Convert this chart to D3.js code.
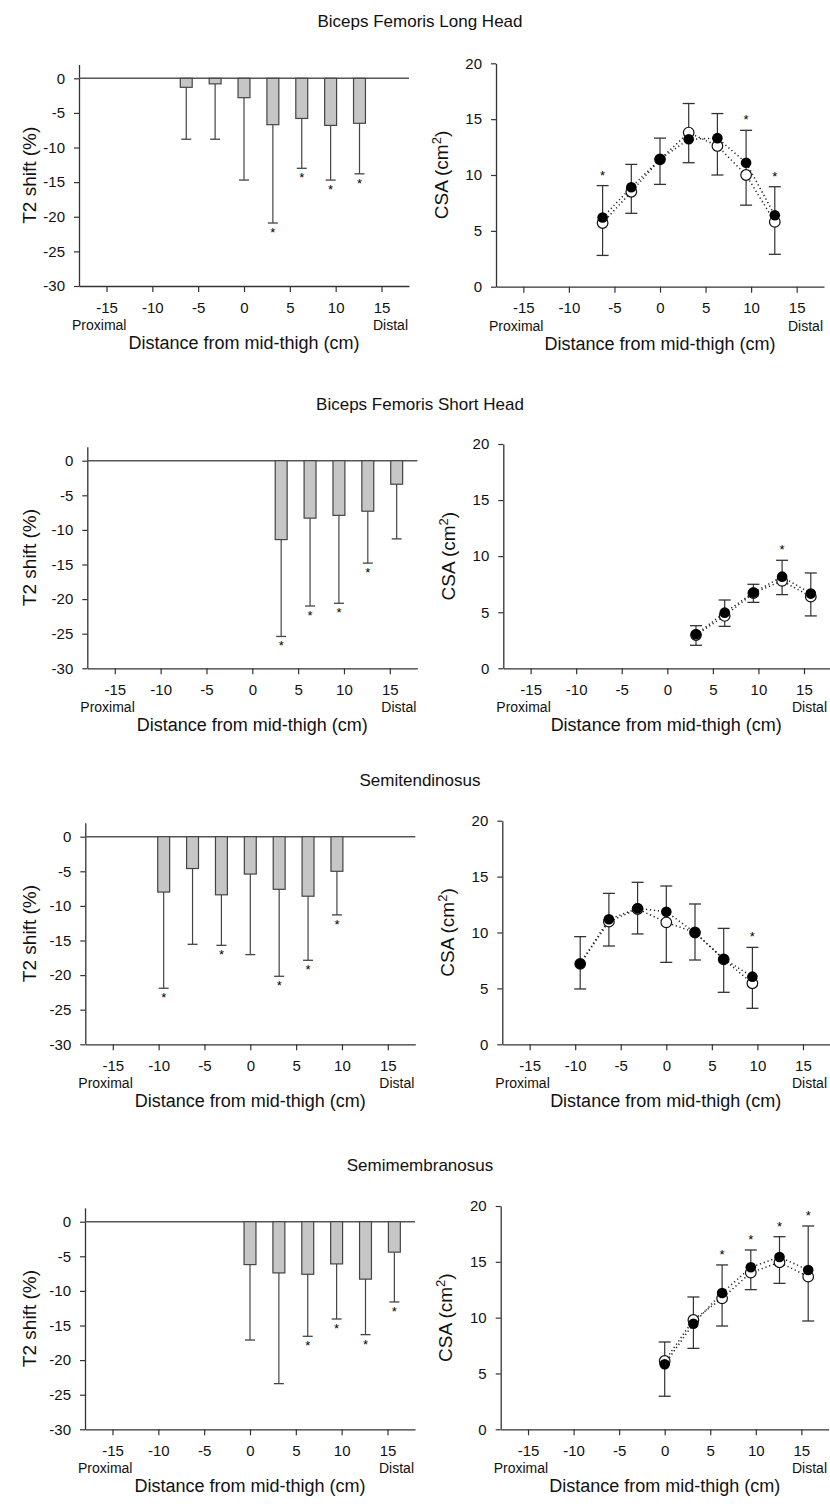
<!DOCTYPE html>
<html>
<head>
<meta charset="utf-8">
<script src="https://cdn.jsdelivr.net/npm/d3@7"></script>
<style>
  html, body { margin: 0; padding: 0; background: #fff; }
  svg { display: block; }
  text { font-family: Arial, "Liberation Sans", sans-serif; fill: #111; }
</style>
</head>
<body>
<svg id="chart" width="830" height="1504"></svg>
<script>
// ---------------- DATA ----------------
const muscles = ["Biceps Femoris Long Head", "Biceps Femoris Short Head", "Semitendinosus", "Semimembranosus"];
const xTicks = [-15, -10, -5, 0, 5, 10, 15];
const t2Ticks = [0, -5, -10, -15, -20, -25, -30];
const csaTicks = [0, 5, 10, 15, 20];

// Biceps Femoris Long Head
const bflhPos     = [-6.3, -3.15, 0, 3.15, 6.3, 9.45, 12.6];
const bflhT2      = [-1.3, -0.8, -2.8, -6.7, -5.8, -6.8, -6.5];
const bflhT2SD    = [7.5, 8.0, 11.9, 14.2, 7.2, 7.9, 7.3];
const bflhT2Sig   = [0, 0, 0, 1, 1, 1, 1];
const bflhPre     = [5.7, 8.5, 11.4, 13.8, 12.6, 10.0, 5.8];
const bflhPost    = [6.2, 8.9, 11.4, 13.2, 13.3, 11.1, 6.4];
const bflhPostSD  = [2.85, 2.05, 1.9, 3.2, 2.2, 2.9, 2.55];
const bflhPreSD   = [2.9, 1.93, 2.24, 2.7, 2.6, 2.7, 2.9];
const bflhCsaSig  = [1, 0, 0, 0, 0, 1, 1];

// Biceps Femoris Short Head
const bfshPos     = [3.15, 6.3, 9.45, 12.6, 15.75];
const bfshT2      = [-11.4, -8.3, -7.9, -7.3, -3.4];
const bfshT2SD    = [14.0, 12.7, 12.7, 7.5, 7.9];
const bfshT2Sig   = [1, 1, 1, 1, 0];
const bfshPre     = [2.97, 4.67, 6.7, 7.8, 6.39];
const bfshPost    = [3.03, 4.96, 6.75, 8.17, 6.66];
const bfshPostSD  = [0.77, 1.13, 0.74, 1.46, 1.84];
const bfshPreSD   = [0.92, 0.93, 0.82, 1.23, 1.72];
const bfshCsaSig  = [0, 0, 0, 1, 0];

// Semitendinosus
const stPos       = [-9.45, -6.3, -3.15, 0, 3.15, 6.3, 9.45];
const stT2        = [-8.0, -4.6, -8.4, -5.4, -7.6, -8.6, -5.0];
const stT2SD      = [13.9, 10.95, 7.3, 11.64, 12.57, 9.26, 6.3];
const stT2Sig     = [1, 0, 1, 0, 1, 1, 1];
const stPre       = [7.2, 10.97, 12.1, 10.91, 10.0, 7.6, 5.46];
const stPost      = [7.21, 11.18, 12.16, 11.86, 9.99, 7.63, 6.05];
const stPostSD    = [2.42, 2.32, 2.33, 2.3, 2.56, 2.74, 2.62];
const stPreSD     = [2.25, 2.18, 2.23, 3.58, 2.46, 2.95, 2.24];
const stCsaSig    = [0, 0, 0, 0, 0, 0, 1];

// Semimembranosus
const smPos       = [0, 3.15, 6.3, 9.45, 12.6, 15.75];
const smT2        = [-6.2, -7.4, -7.6, -6.1, -8.3, -4.4];
const smT2SD      = [10.9, 16.0, 8.96, 7.96, 8.02, 7.2];
const smT2Sig     = [0, 0, 1, 1, 1, 1];
const smPre       = [6.12, 9.79, 11.73, 14.03, 14.96, 13.67];
const smPost      = [5.82, 9.46, 12.21, 14.51, 15.43, 14.27];
const smPostSD    = [2.0, 2.39, 2.51, 1.55, 1.82, 3.94];
const smPreSD     = [3.16, 2.54, 2.48, 1.52, 1.89, 3.97];
const smCsaSig    = [0, 0, 1, 1, 1, 1];

const rows = [
  {pos: bflhPos, t2: bflhT2, t2sd: bflhT2SD, t2sig: bflhT2Sig, pre: bflhPre, post: bflhPost, postSD: bflhPostSD, preSD: bflhPreSD, csaSig: bflhCsaSig},
  {pos: bfshPos, t2: bfshT2, t2sd: bfshT2SD, t2sig: bfshT2Sig, pre: bfshPre, post: bfshPost, postSD: bfshPostSD, preSD: bfshPreSD, csaSig: bfshCsaSig},
  {pos: stPos, t2: stT2, t2sd: stT2SD, t2sig: stT2Sig, pre: stPre, post: stPost, postSD: stPostSD, preSD: stPreSD, csaSig: stCsaSig},
  {pos: smPos, t2: smT2, t2sd: smT2SD, t2sig: smT2Sig, pre: smPre, post: smPost, postSD: smPostSD, preSD: smPreSD, csaSig: smCsaSig}
];

// ---------------- LAYOUT ----------------
const layout = [
  {L: {x0: 79,   y0: 78.3,  yB: 286},    R: {x0: 496,   y20: 63.3,  yB: 286.7}},
  {L: {x0: 87.3, y0: 460.7, yB: 668.3},  R: {x0: 503.3, y20: 444,   yB: 668.3}},
  {L: {x0: 85.3, y0: 836.7, yB: 1044.3}, R: {x0: 502.3, y20: 820.7, yB: 1044.3}},
  {L: {x0: 85,   y0: 1221.7,yB: 1429.3}, R: {x0: 500.7, y20: 1206,  yB: 1429.3}}
];
const plotW = 330;
const svg = d3.select("#chart");
const axisColor = "#333";

function styleAxis(g, fs) {
  g.selectAll("path.domain").attr("stroke", axisColor).attr("stroke-width", 1.3);
  g.selectAll(".tick line").attr("stroke", axisColor).attr("stroke-width", 1.2);
  g.selectAll(".tick text").attr("fill", "#111").style("font-size", fs + "px")
    .style("font-family", "Arial, 'Liberation Sans', sans-serif");
}

function xAxisBlock(x, yB, x0, x1) {
  const g = svg.append("g").attr("transform", `translate(0,${yB})`)
    .call(d3.axisBottom(x).tickValues(xTicks).tickFormat(d => String(d)).tickSize(6).tickPadding(10).tickSizeOuter(0));
  styleAxis(g, 15);
  svg.append("text").attr("x", x0 - 7).attr("y", yB + 44).attr("text-anchor", "start")
    .style("font-size", "14px").text("Proximal");
  svg.append("text").attr("x", Math.min(x1 - 1, 827)).attr("y", yB + 44).attr("text-anchor", "end")
    .style("font-size", "14px").text("Distal");
  svg.append("text").attr("x", (x0 + x1) / 2).attr("y", yB + 63).attr("text-anchor", "middle")
    .style("font-size", "18px").text("Distance from mid-thigh (cm)");
}

function star(x, yBase) {
  svg.append("text").attr("x", x).attr("y", yBase).attr("text-anchor", "middle")
    .style("font-size", "13px").style("fill", "#000").text("*");
}

rows.forEach((d, i) => {
  const lay = layout[i];
  // Title
  svg.append("text").attr("x", 420).attr("y", lay.L.y0 - 51).attr("text-anchor", "middle")
    .style("font-size", "17px").text(muscles[i]);

  // ---------- Left: T2 shift bars ----------
  {
    const {x0, y0, yB} = lay.L;
    const x1 = x0 + plotW;
    const x = d3.scaleLinear().domain([-18, 18]).range([x0, x1]);
    const pxPerUnit = (yB - y0) / 30;
    const y = d3.scaleLinear().domain([-30, 2]).range([yB, y0 - 2 * pxPerUnit]);

    const gy = svg.append("g").attr("transform", `translate(${x0},0)`)
      .call(d3.axisLeft(y).tickValues(t2Ticks).tickFormat(v => String(v)).tickSize(5).tickPadding(9).tickSizeOuter(0));
    styleAxis(gy, 15);
    xAxisBlock(x, yB, x0, x1);

    svg.append("line").attr("x1", x0).attr("x2", x1).attr("y1", y(0)).attr("y2", y(0))
      .attr("stroke", "#555").attr("stroke-width", 1.4);

    const bw = 1.3;
    d.pos.forEach((p, k) => {
      const m = d.t2[k], lo = m - d.t2sd[k];
      svg.append("line").attr("x1", x(p)).attr("x2", x(p)).attr("y1", y(m)).attr("y2", y(lo))
        .attr("stroke", "#444").attr("stroke-width", 1.2);
      svg.append("line").attr("x1", x(p) - 5).attr("x2", x(p) + 5).attr("y1", y(lo)).attr("y2", y(lo))
        .attr("stroke", "#444").attr("stroke-width", 1.3);
      svg.append("rect").attr("x", x(p - bw / 2)).attr("width", x(p + bw / 2) - x(p - bw / 2))
        .attr("y", y(0)).attr("height", y(m) - y(0))
        .attr("fill", "#c6c6c6").attr("stroke", "#444").attr("stroke-width", 1.2);
      if (d.t2sig[k]) star(x(p), y(lo) + 14);
    });

    svg.append("text").attr("transform", `translate(29,${(y(2) + yB) / 2}) rotate(-90)`)
      .attr("text-anchor", "middle").attr("dy", "0.35em").style("font-size", "19px").text("T2 shift (%)");
  }

  // ---------- Right: CSA ----------
  {
    const {x0, y20, yB} = lay.R;
    const x1 = Math.min(x0 + plotW - 2, 829);
    const x = d3.scaleLinear().domain([-18, 18]).range([x0, x0 + plotW - 2]);
    const y = d3.scaleLinear().domain([0, 20]).range([yB, y20]);

    const gy = svg.append("g").attr("transform", `translate(${x0},0)`)
      .call(d3.axisLeft(y).tickValues(csaTicks).tickSize(5).tickPadding(9).tickSizeOuter(0));
    styleAxis(gy, 15);
    xAxisBlock(x, yB, x0, x1);

    d.pos.forEach((p, k) => {
      const top = d.post[k] + d.postSD[k], bot = d.pre[k] - d.preSD[k];
      svg.append("line").attr("x1", x(p)).attr("x2", x(p)).attr("y1", y(top)).attr("y2", y(bot))
        .attr("stroke", "#333").attr("stroke-width", 1.2);
      [top, bot].forEach(v => svg.append("line").attr("x1", x(p) - 6).attr("x2", x(p) + 6)
        .attr("y1", y(v)).attr("y2", y(v)).attr("stroke", "#333").attr("stroke-width", 1.3));
      if (d.csaSig[k]) star(x(p), y(top) - 6);
    });

    const line = d3.line().x(v => x(v[0])).y(v => y(v[1]));
    [d.pre, d.post].forEach(series => {
      svg.append("path").datum(d.pos.map((p, k) => [p, series[k]])).attr("d", line)
        .attr("fill", "none").attr("stroke", "#222").attr("stroke-width", 1.5)
        .attr("stroke-dasharray", "1.2,2.8");
    });
    svg.selectAll(null).data(d.pos.map((p, k) => [p, d.pre[k]])).enter().append("circle")
      .attr("cx", v => x(v[0])).attr("cy", v => y(v[1])).attr("r", 5.3)
      .attr("fill", "#fff").attr("stroke", "#111").attr("stroke-width", 1.2);
    svg.selectAll(null).data(d.pos.map((p, k) => [p, d.post[k]])).enter().append("circle")
      .attr("cx", v => x(v[0])).attr("cy", v => y(v[1])).attr("r", 5.3)
      .attr("fill", "#000");

    const lab = svg.append("text").attr("transform", `translate(${x0 - 55},${(y20 + yB) / 2}) rotate(-90)`)
      .attr("text-anchor", "middle").attr("dy", "0.35em").style("font-size", "19px");
    lab.append("tspan").text("CSA (cm");
    lab.append("tspan").attr("dy", "-7").style("font-size", "13px").text("2");
    lab.append("tspan").attr("dy", "7").text(")");
  }
});
</script>
</body>
</html>
